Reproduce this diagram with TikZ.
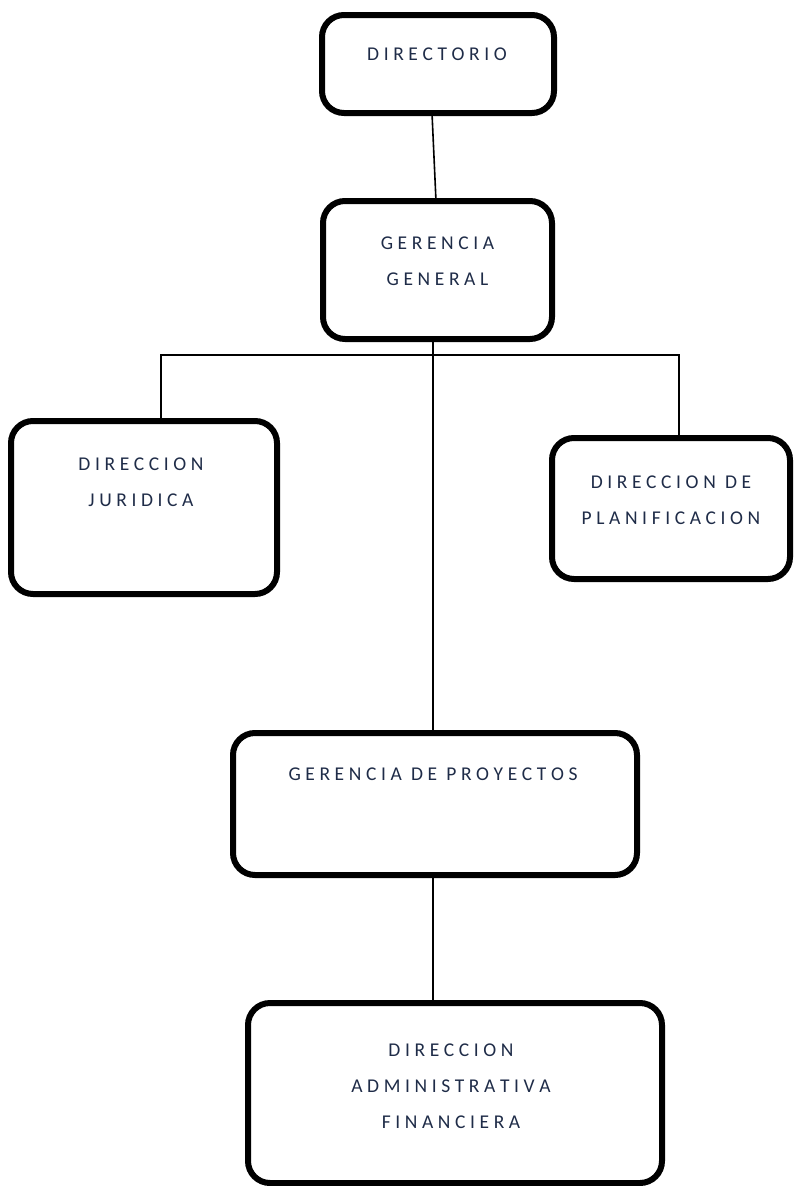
\documentclass[tikz,border=0pt]{standalone}
\usepackage{fontspec}
\setmainfont{Carlito}
\definecolor{txtc}{HTML}{1F2C48}
\newcommand{\lblfont}{\fontsize{19.5}{36}\selectfont\spaceskip 4.6pt\relax}
\begin{document}
\begin{tikzpicture}[x=1pt,y=-1pt,
  box/.style={draw=black, line width=6pt, rounded corners=22pt, fill=white, outer sep=0pt, inner sep=0pt},
  lbl/.style={anchor=north, inner sep=0pt, align=center, text=txtc, font=\lblfont},
  conn/.style={draw=black, line width=1.6pt}]
\useasboundingbox (0,0) rectangle (793,1186);
\clip (0,0) rectangle (793,1186);
% boxes
\node[box, minimum width=232, minimum height=98]  (dir)  at (438,64) {};
\node[box, minimum width=229, minimum height=138] (gg)   at (437.5,270) {};
\node[box, minimum width=266, minimum height=173] (jur)  at (144,507.5) {};
\node[box, minimum width=238, minimum height=141] (plan) at (671,508.5) {};
\node[box, minimum width=404, minimum height=142] (gp)   at (435,804) {};
\node[box, minimum width=414, minimum height=180] (daf)  at (455,1093) {};
% labels
\node[lbl] (tdir)  at ([yshift=-33pt,xshift=-1pt]dir.north)  {D I R E C T O R I O};
\node[lbl] (tgg)   at ([yshift=-36pt]gg.north)   {G E R E N C I A\\G E N E R A L};
\node[lbl] (tjur)  at ([yshift=-37pt,xshift=-3pt]jur.north)  {D I R E C C I O N\\J U R I D I C A};
\node[lbl] (tplan) at ([yshift=-38pt]plan.north) {D I R E C C I O N \ D E\\P L A N I F I C A C I O N};
\node[lbl] (tgp)   at ([yshift=-35pt,xshift=-2pt]gp.north)   {G E R E N C I A \ D E \ P R O Y E C T O S};
\node[lbl] (tdaf)  at ([yshift=-41pt,xshift=-4pt]daf.north)  {D I R E C C I O N\\A D M I N I S T R A T I V A\\F I N A N C I E R A};
% connectors
\coordinate (trunk) at (433,355);
\coordinate (jl) at (161,355);
\coordinate (pr) at (679,355);
\draw[conn] ([xshift=-6pt]dir.south) -- ([xshift=-1.5pt]gg.north);
\draw[conn] (gg.south -| trunk) -- (gp.north -| trunk);
\draw[conn] (jur.north -| jl) -- (jl) -- (pr) -- (plan.north -| pr);
\draw[conn] (gp.south -| trunk) -- (daf.north -| trunk);
\end{tikzpicture}
\end{document}
